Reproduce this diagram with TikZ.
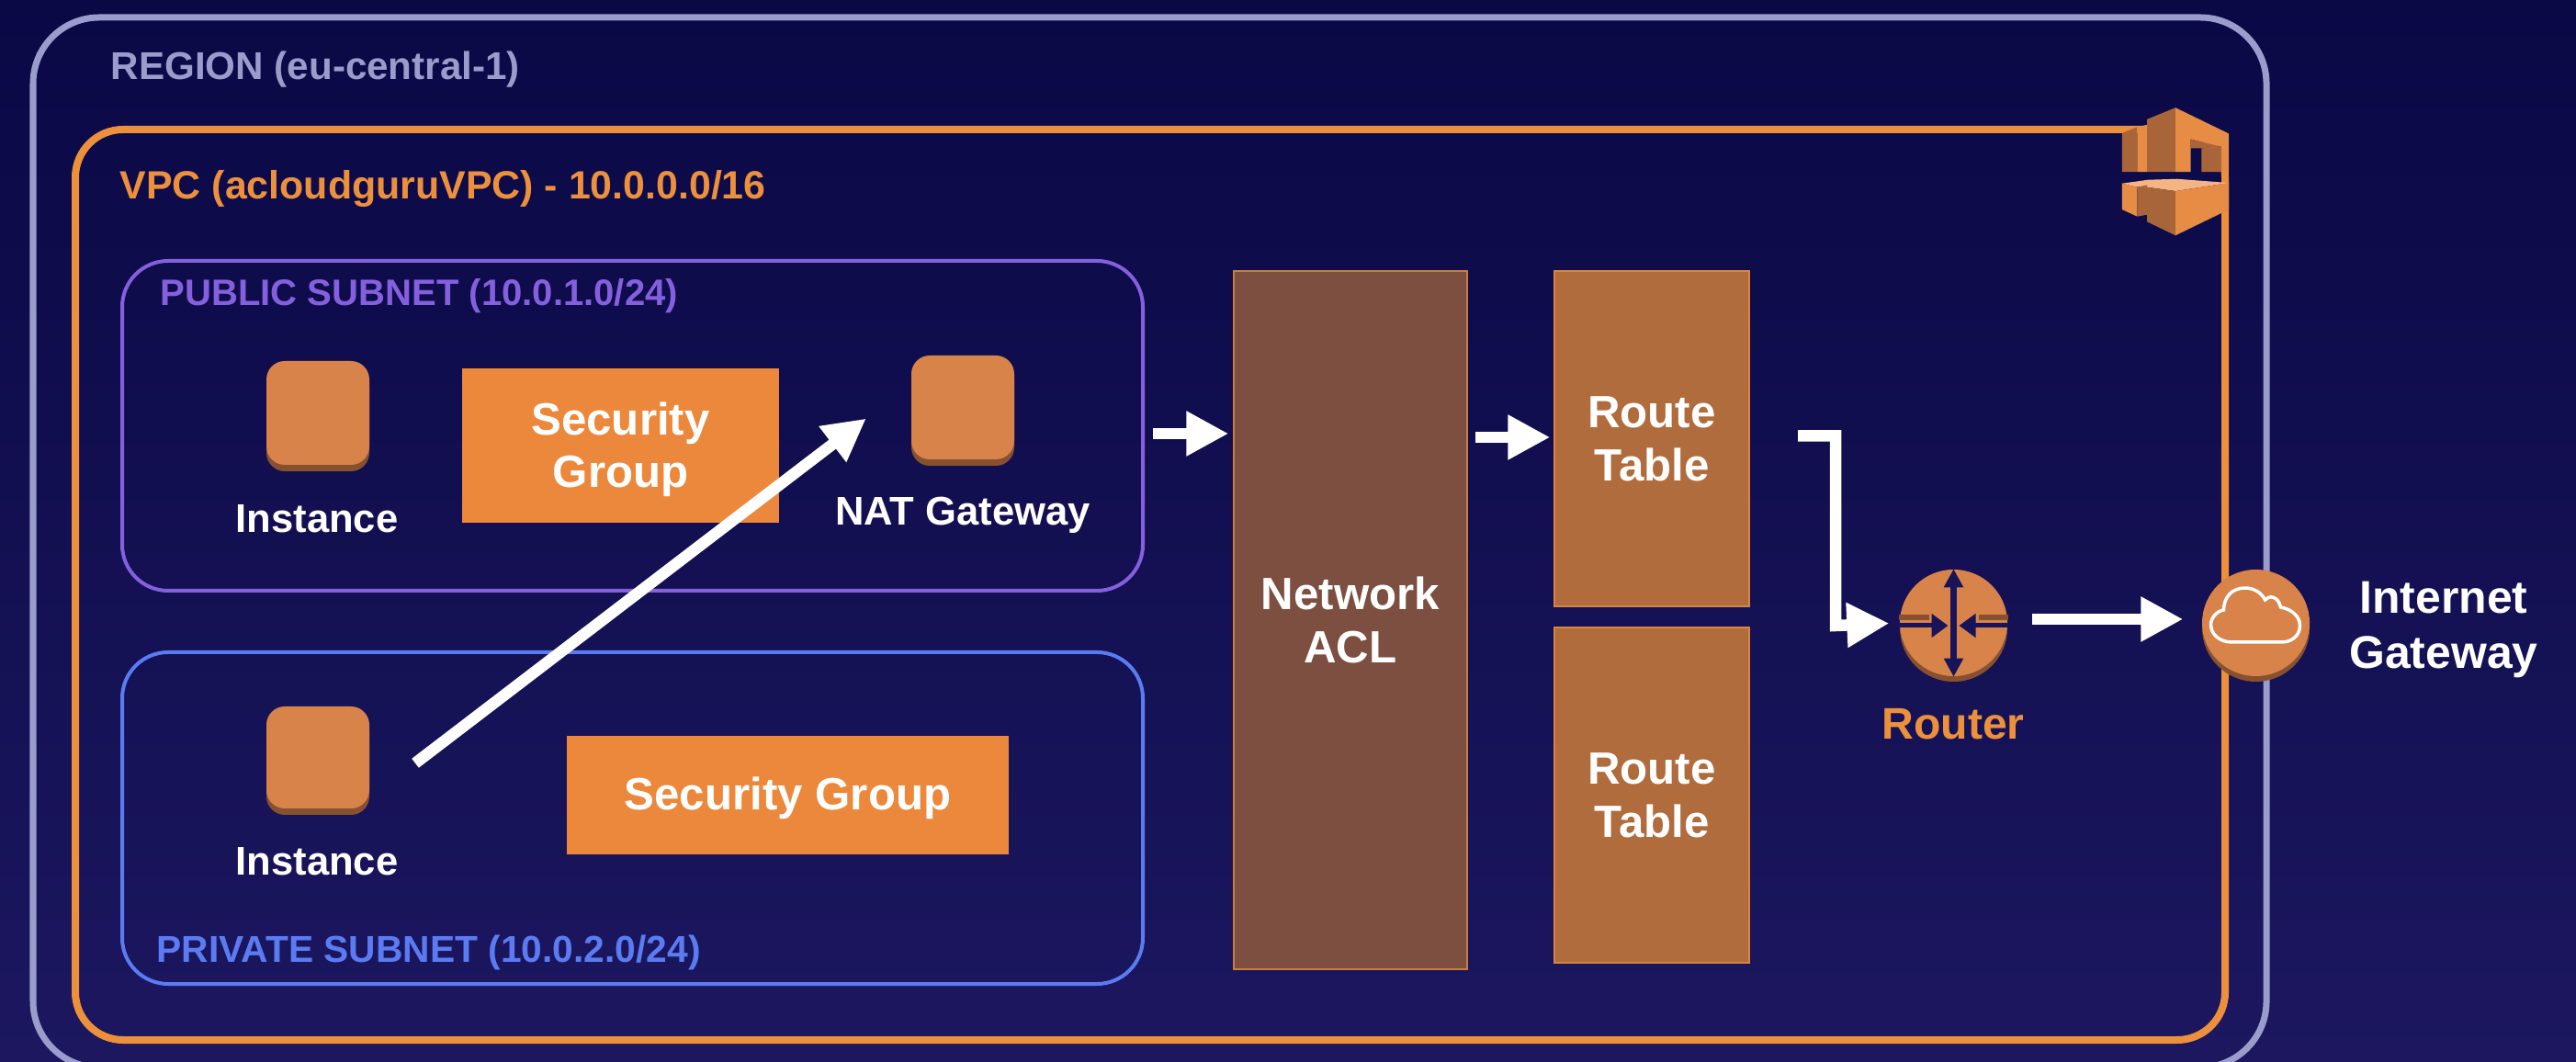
\documentclass[tikz,border=0pt]{standalone}
\usepackage{fontspec}
\setmainfont{Liberation Sans}
\usetikzlibrary{arrows.meta,shapes.geometric,shadows,calc}
\definecolor{bgtop}{HTML}{0A0845}
\definecolor{bgbot}{HTML}{1C175F}
\definecolor{regioncol}{HTML}{9A9CCB}
\definecolor{vpccol}{HTML}{EC903C}
\definecolor{pubcol}{HTML}{8560DE}
\definecolor{privcol}{HTML}{5B7BF2}
\definecolor{iconcol}{HTML}{D8834A}
\definecolor{iconshade}{HTML}{87512F}
\definecolor{sgcol}{HTML}{EC883C}
\definecolor{aclcol}{HTML}{7D4F41}
\definecolor{rtcol}{HTML}{B06C3C}
\definecolor{cubedark}{HTML}{A8653A}
\definecolor{cubemid}{HTML}{E68C44}
\definecolor{cubetop}{HTML}{F4B483}
\tikzset{
  zone/.style={rectangle, rounded corners=#1, inner sep=0pt},
  zonelabel/.style={anchor=base west, inner sep=0pt, font=\bfseries\fontsize{#1}{14}\selectfont},
  icon/.style={rectangle, rounded corners=0.2cm, fill=iconcol, minimum width=1.12cm, minimum height=1.13cm, inner sep=0pt,
    general shadow={shadow xshift=0cm, shadow yshift=-0.07cm, fill=iconshade}},
  roundicon/.style={ellipse, fill=iconcol, minimum width=1.17cm, minimum height=1.16cm, inner sep=0pt,
    general shadow={shadow xshift=0cm, shadow yshift=-0.06cm, fill=iconshade}},
  iconlabel/.style={anchor=base, inner sep=0pt, text=white, font=\bfseries\fontsize{#1}{15}\selectfont},
  iconlabel/.default=12.4,
  sgbox/.style={rectangle, fill=sgcol, inner sep=0pt, text=white, align=center, font=\bfseries\fontsize{14}{16.5}\selectfont},
  aclbox/.style={rectangle, fill=aclcol, draw=vpccol!70!aclcol, line width=0.4pt, inner sep=0pt, text=white, align=center,
    font=\bfseries\fontsize{14}{16.5}\selectfont},
  rtbox/.style={aclbox, fill=rtcol, draw=vpccol!70!rtcol},
  flow/.style={draw=white, line width=0.125cm, line join=miter, -{Triangle[length=0.46cm,width=0.46cm]}},
  glyph/.style={draw=bgbot!80!bgtop, line width=0.05cm, -{Triangle[length=0.18cm,width=0.25cm]}},
  glyphband/.style={draw=iconshade, line width=0.06cm}
}
\begin{document}
\begin{tikzpicture}
\useasboundingbox (0,0) rectangle (28.04,-11.56);
\clip (0,0) rectangle (28.04,-11.56);
\shade[top color=bgtop, bottom color=bgbot] (0,0) rectangle (28.04,-11.56);

% outer boxes
\node[zone=0.72cm, draw=regioncol, line width=0.07cm, minimum width=24.31cm, minimum height=11.43cm] (region) at (12.515,-5.905) {};
\node[zone=0.52cm, draw=vpccol, line width=0.08cm, minimum width=23.40cm, minimum height=9.91cm] (vpc) at (12.52,-6.365) {};
\node[zone=0.5cm, draw=pubcol, line width=0.04cm, minimum width=11.11cm, minimum height=3.59cm] (public) at (6.885,-4.635) {};
\node[zone=0.5cm, draw=privcol, line width=0.04cm, minimum width=11.11cm, minimum height=3.61cm] (private) at (6.885,-8.905) {};

\node[zonelabel=12, text=regioncol] (regionlabel) at (1.20,-0.87) {REGION (eu-central-1)};
\node[zonelabel=12.2, text=vpccol] (vpclabel) at (1.30,-2.17) {VPC (acloudguruVPC) - 10.0.0.0/16};
\node[zonelabel=11.4, text=pubcol] (publiclabel) at (1.74,-3.33) {PUBLIC SUBNET (10.0.1.0/24)};
\node[zonelabel=11.6, text=privcol] (privatelabel) at (1.70,-10.48) {PRIVATE SUBNET (10.0.2.0/24)};

% vpc icon
\begin{scope}[shift={(22,-0.8)}, x=0.00333cm, y=-0.00333cm]
\fill[cubedark] (330,195) -- (380,175) -- (380,322) -- (330,322) -- cycle;
\fill[cubemid] (380,175) -- (412,168) -- (412,322) -- (380,322) -- cycle;
\fill[cubedark] (412,150) -- (505,112) -- (505,322) -- (412,322) -- cycle;
\fill[cubemid] (505,112) -- (680,197) -- (680,322) -- (655,322) -- (655,240) -- (555,215) -- (555,322) -- (505,322) -- cycle;
\fill[cubedark] (590,245) -- (655,240) -- (655,322) -- (590,322) -- cycle;
\fill[cubedark] (555,215) -- (655,240) -- (590,245) -- (555,245) -- cycle;
\fill[cubetop] (330,360) -- (415,348) -- (510,345) -- (680,358) -- (505,385) -- (412,372) -- (380,372) -- cycle;
\fill[cubemid] (330,360) -- (380,372) -- (380,468) -- (330,445) -- cycle;
\fill[cubedark] (380,372) -- (412,365) -- (412,462) -- (380,468) -- cycle;
\fill[cubedark] (412,372) -- (505,385) -- (505,530) -- (412,485) -- cycle;
\fill[cubemid] (505,385) -- (680,358) -- (680,445) -- (505,530) -- cycle;
\end{scope}

% subnet contents
\node[icon] (inst1) at (3.46,-4.495) {};
\node[iconlabel] (inst1label) at (3.45,-5.80) {Instance};
\node[sgbox, minimum width=3.45cm, minimum height=1.68cm, text depth=0.02cm] (sg1) at (6.755,-4.85) {\raisebox{-0.03cm}{Security}\\[0.02cm]Group};
\node[icon] (nat) at (10.48,-4.435) {};
\node[iconlabel] (natlabel) at (10.48,-5.72) {NAT Gateway};
\node[icon, minimum height=1.11cm] (inst2) at (3.46,-8.245) {};
\node[iconlabel] (inst2label) at (3.45,-9.53) {Instance};
\node[sgbox, minimum width=4.81cm, minimum height=1.29cm, text depth=0.03cm] (sg2) at (8.575,-8.655) {Security Group};

% tables
\node[aclbox, minimum width=2.54cm, minimum height=7.60cm] (acl) at (14.70,-6.75) {Network\\ACL};
\node[rtbox, minimum width=2.12cm, minimum height=3.65cm] (rt1) at (17.98,-4.775) {Route\\Table};
\node[rtbox, minimum width=2.12cm, minimum height=3.65cm] (rt2) at (17.98,-8.655) {Route\\Table};

% router and gateway
\node[roundicon] (router) at (21.265,-6.78) {};
\draw[glyphband] ([yshift=0.06cm]router.west) -- ([xshift=-0.27cm,yshift=0.06cm]router.center);
\draw[glyphband] ([yshift=0.06cm]router.east) -- ([xshift=0.27cm,yshift=0.06cm]router.center);
\draw[draw=bgbot!80!bgtop, line width=0.07cm, {Triangle[length=0.2cm,width=0.2cm]}-{Triangle[length=0.2cm,width=0.2cm]}] (router.north) -- (router.south);
\draw[glyph] ([yshift=-0.03cm]router.west) -- ([xshift=-0.06cm,yshift=-0.03cm]router.center);
\draw[glyph] ([yshift=-0.03cm]router.east) -- ([xshift=0.06cm,yshift=-0.03cm]router.center);
\node[iconlabel=13.7, text=vpccol] (routerlabel) at (21.26,-8.05) {Router};
\node[roundicon] (igw) at (24.555,-6.78) {};
\begin{scope}[shift={(igw.center)}, x=0.01cm, y=-0.01cm]
\draw[white, line width=0.035cm] (-26,21) .. controls (-40,21) and (-49,12) .. (-49,2)
  .. controls (-49,-6) and (-42,-13) .. (-35,-14)
  .. controls (-35,-29) and (-25,-38) .. (-12,-38)
  .. controls (-2,-38) and (6,-33) .. (10,-25)
  .. controls (14,-30) and (24,-30) .. (27,-17)
  .. controls (38,-15) and (48,-8) .. (48,3)
  .. controls (48,14) and (39,21) .. (28,21) -- cycle;
\end{scope}
\node[iconlabel=14.2] (igwlabel) at (26.60,-6.68) {Internet};
\node[iconlabel=14.2] (igwlabel2) at (26.60,-7.28) {Gateway};

% arrows
\coordinate (pubout) at (12.44,-4.72);
\coordinate (rt0) at (15.97,-4.76);
\coordinate (rtout) at (19.04,-4.745);
\coordinate (elbow) at (19.98,-6.81);
\coordinate (natin) at (9.92,-4.18);
\coordinate (instout) at (4.02,-8.69);
\draw[flow, shorten <=0.63cm, shorten >=0.62cm] (instout) -- (natin);
\draw[flow, shorten <=0.11cm, shorten >=0.05cm] (pubout) -- (pubout -| acl.west);
\draw[flow, shorten <=0.09cm, shorten >=0.04cm] (rt0) -- (rt0 -| rt1.west);
\draw[flow, shorten <=0.53cm, shorten >=0.11cm] (rtout) -- (rtout -| elbow) -- (elbow) -- (router.west);
\draw[flow, shorten <=0.26cm, shorten >=0.20cm] ([yshift=0.04cm]router.east) -- ([yshift=0.04cm]igw.west);
\end{tikzpicture}
\end{document}
